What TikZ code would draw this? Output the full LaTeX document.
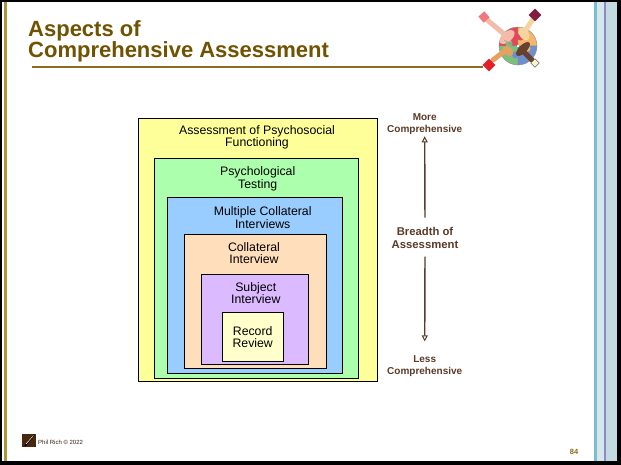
\documentclass[tikz,border=0pt]{standalone}
\usepackage{fontspec}
\setmainfont{Liberation Sans}
\usetikzlibrary{arrows.meta}
\definecolor{titlebrown}{RGB}{112,82,0}
\definecolor{rulegold}{RGB}{140,108,30}
\definecolor{leftgold}{RGB}{178,148,62}
\definecolor{labelbrown}{RGB}{92,58,40}
\definecolor{boxyellow}{RGB}{255,255,153}
\definecolor{boxgreen}{RGB}{172,255,172}
\definecolor{boxblue}{RGB}{153,204,255}
\definecolor{boxpeach}{RGB}{255,222,188}
\definecolor{boxviolet}{RGB}{220,186,255}
\definecolor{boxcream}{RGB}{255,255,204}
\definecolor{stripteal}{RGB}{118,192,202}
\definecolor{striplight}{RGB}{214,230,236}
\definecolor{stripmid}{RGB}{196,218,226}
\definecolor{strippurple}{RGB}{140,140,192}
\definecolor{pzred}{RGB}{228,72,88}
\definecolor{pzorange}{RGB}{242,184,104}
\definecolor{pzgreen}{RGB}{124,192,124}
\definecolor{pzblue}{RGB}{110,143,208}
\definecolor{skinpink}{RGB}{242,188,168}
\definecolor{skinpeach}{RGB}{246,212,162}
\definecolor{skinorange}{RGB}{232,160,96}
\definecolor{skindark}{RGB}{104,64,48}
\definecolor{cuffmaroon}{RGB}{128,30,62}
\definecolor{cuffred}{RGB}{230,30,40}
\definecolor{cuffcream}{RGB}{250,242,200}
\definecolor{footbrown}{RGB}{74,40,16}
\definecolor{pagegold}{RGB}{140,108,20}
\tikzset{
  nest/.style={draw=black, line width=0.8pt, inner sep=0pt, outer sep=0pt},
  boxlabel/.style={align=center, inner sep=0pt, anchor=base,
    font=\fontsize{12.3}{12.5}\selectfont},
  sidelabel/.style={align=center, inner sep=0pt, anchor=base, text=labelbrown,
    font=\bfseries\fontsize{10}{12}\selectfont},
  breadthlabel/.style={align=center, inner sep=0pt, anchor=base, text=labelbrown,
    font=\bfseries\fontsize{11.3}{13.3}\selectfont},
  scalearrow/.style={draw=labelbrown, line width=1.4pt,
    -{Triangle[open, width=6pt, length=6pt, line width=1pt, fill=white]}},
  arm/.style={line width=5pt, line cap=round},
  puzzleline/.style={draw=black!45, line width=0.4pt},
}
\begin{document}
\begin{tikzpicture}[x=1pt, y=-1pt]
\useasboundingbox (0,0) rectangle (621,465);
\fill[white] (0,0) rectangle (621,465);

% right-hand decorative strip
\fill[striplight] (596,0) rectangle (617,465);
\fill[stripmid] (605.5,0) rectangle (617,465);
\fill[stripteal] (594,0) rectangle (596.5,465);
\fill[strippurple] (604,0) rectangle (605.5,465);

% slide frame
\fill[leftgold] (4.3,0) rectangle (7.3,465);
\fill[black] (0,0) rectangle (1.8,465);
\fill[black] (0,0) rectangle (621,1.6);
\fill[black] (0,461) rectangle (621,465);
\fill[black] (617,0) rectangle (621,465);

% title and rule (base anchor sits on the last line)
\node[anchor=base west, align=left, inner sep=0pt, text=titlebrown,
  font=\bfseries\fontsize{22}{21}\selectfont] (title) at (28,58)
  {Aspects of\\Comprehensive Assessment};
\coordinate (ruleL) at (32,67);
\coordinate (ruleR) at (483,67);
\draw[rulegold, line width=2pt] (ruleL) -- (ruleR);

% puzzle-and-hands emblem
\begin{scope}[shift={(518,46)}]
  \filldraw[puzzleline, fill=pzred] (0,0) -- (-19,0) arc[start angle=180, end angle=270, radius=19] -- cycle;
  \filldraw[puzzleline, fill=pzorange] (0,0) -- (0,-19) arc[start angle=270, end angle=360, radius=19] -- cycle;
  \filldraw[puzzleline, fill=pzgreen] (0,0) -- (-19,0) arc[start angle=180, end angle=90, radius=19] -- cycle;
  \filldraw[puzzleline, fill=pzblue] (0,0) -- (19,0) arc[start angle=0, end angle=90, radius=19] -- cycle;
  \fill[pzred] (2.5,-9) circle (3.5);
  \fill[pzorange] (9,2.5) circle (3.5);
  \fill[pzgreen] (-9,-2.5) circle (3.5);
  \fill[pzblue] (-2.5,9) circle (3.5);
  \fill[white] (-1,-1) rectangle (1,1);
  % arms with cuffs and hands
  \draw[arm, skinpink] (-32,-27) -- (-14,-12);
  \fill[skinpink, rotate around={40:(-11,-9)}] (-11,-9) ellipse (9 and 5);
  \draw[skindark!60, line width=0.4pt] (-14,-6) -- (-6,-2) (-12,-4) -- (-5,0);
  \fill[cuffred!60!white, rotate around={40:(-34,-29)}] (-38,-33) rectangle (-30,-25);
  \draw[arm, skinpeach] (15,-27) -- (7,-15);
  \fill[skinpeach, rotate around={-55:(6,-12)}] (6,-12) ellipse (7 and 4.5);
  \fill[cuffmaroon, rotate around={45:(17,-31)}] (12.5,-35.5) rectangle (21.5,-26.5);
  \draw[arm, skinorange] (-25,14) -- (-12,4);
  \fill[skinorange, rotate around={-40:(-10,5)}] (-10,5) ellipse (6 and 4);
  \fill[cuffred, rotate around={45:(-29,19)}] (-33.5,14.5) rectangle (-24.5,23.5);
  \draw[arm, skindark] (14,14) -- (6,6);
  \fill[skindark, rotate around={45:(5,3)}] (5,3) ellipse (9 and 4);
  \draw[black!60, fill=cuffcream, rotate around={45:(17,17)}] (14,14) rectangle (20,20);
\end{scope}

% nested assessment levels
\node[nest, fill=boxyellow, minimum width=239pt, minimum height=263pt] (psychosocial) at (257.5,249.5) {};
\node[nest, fill=boxgreen, minimum width=204pt, minimum height=220pt] (testing) at (256,268) {};
\node[nest, fill=boxblue, minimum width=175pt, minimum height=176pt] (multiple) at (254.5,285) {};
\node[nest, fill=boxpeach, minimum width=142pt, minimum height=134pt] (collateral) at (255,301) {};
\node[nest, fill=boxviolet, minimum width=107pt, minimum height=90pt] (subject) at (254.5,319) {};
\node[nest, fill=boxcream, minimum width=61pt, minimum height=49pt] (record) at (252.5,336.5) {};

% labels: base anchor on the second line's baseline
\node[boxlabel] (psychosocialtext) at (257,146.8) {Assessment of Psychosocial\\Functioning};
\node[boxlabel] (testingtext) at (257.7,188.1) {Psychological\\Testing};
\node[boxlabel] (multipletext) at (262.7,228.5) {Multiple Collateral\\Interviews};
\node[boxlabel] (collateraltext) at (254,263.8) {Collateral\\Interview};
\node[boxlabel] (subjecttext) at (255.8,303.5) {Subject\\Interview};
\node[boxlabel] (recordtext) at (252.7,347.8) {Record\\Review};

% breadth scale
\node[sidelabel] (more) at (424.7,133) {More\\Comprehensive};
\node[breadthlabel] (breadth) at (425,248.3) {Breadth of\\Assessment};
\node[sidelabel] (less) at (424.7,374.5) {Less\\Comprehensive};
\draw[scalearrow, shorten <=9pt, shorten >=1pt] (breadth.north) -- (more.south);
\draw[scalearrow, shorten <=8pt, shorten >=14pt] (breadth.south) -- (less.north);

% footer
\fill[footbrown] (22,434) rectangle (36,447);
\draw[black, line width=1.6pt] (25,446) -- (34,435);
\draw[white, line width=0.5pt] (26,444) -- (33.5,435.5);
\node[anchor=base west, inner sep=0pt, text=footbrown!80!black,
  font=\fontsize{6}{7}\selectfont] (credit) at (38,444) {Phil Rich © 2022};
\node[anchor=base, inner sep=0pt, text=pagegold,
  font=\bfseries\fontsize{7.5}{9}\selectfont] (pagenum) at (574,454) {84};
\end{tikzpicture}
\end{document}
